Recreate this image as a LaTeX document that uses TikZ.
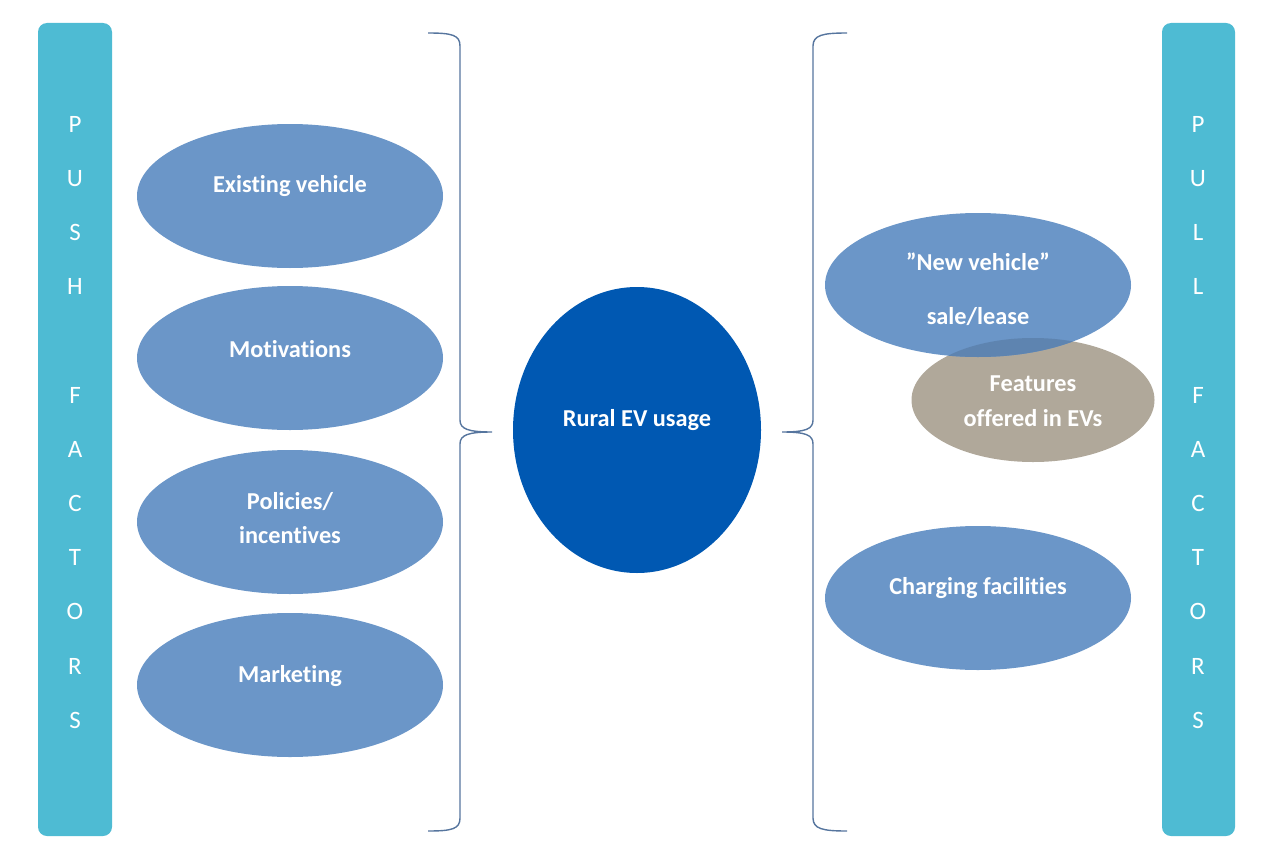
\documentclass[tikz,border=0pt]{standalone}
\usepackage{fontspec}
\setmainfont[Ligatures=NoCommon]{Carlito}
\usetikzlibrary{shapes.geometric}
\definecolor{barcol}{HTML}{4EBBD3}
\definecolor{ellcol}{HTML}{6B96C8}
\definecolor{corecol}{HTML}{0058B2}
\definecolor{featcol}{HTML}{B0A89A}
\definecolor{bracecol}{HTML}{56759E}
\tikzset{
  factorbar/.style={fill=barcol, draw=none, rounded corners=9pt},
  bartext/.style={text=white, font=\fontsize{25}{30}\selectfont, align=center, inner sep=0pt},
  blob/.style={ellipse, fill=ellcol, draw=none, minimum width=306pt, minimum height=144pt, inner sep=0pt},
  label/.style={text=white, font=\bfseries\fontsize{24.3}{29}\selectfont, align=center, inner sep=0pt},
  bracket/.style={draw=bracecol, line width=1.4pt},
}
\begin{document}
\begin{tikzpicture}[x=1pt, y=-1pt]
\useasboundingbox (0,0) rectangle (1282,843);

% side bars
\fill[factorbar] (38,23) rectangle (112,836);
\fill[factorbar] (1162,23) rectangle (1235,836);
\foreach \ch [count=\i] in {P,U,S,H,,F,A,C,T,O,R,S}
  \node[bartext] (pushl\i) at (75,{124+(\i-1)*54.2}) {\ch};
\foreach \ch [count=\i] in {P,U,L,L,,F,A,C,T,O,R,S}
  \node[bartext] (pulll\i) at (1198,{124+(\i-1)*54.2}) {\ch};

% push factors
\node[blob] (exist) at (290,196) {};
\node[label] (existt) at (290,186) {Existing vehicle};
\node[blob] (motiv) at (290,358) {};
\node[label] (motivt) at (290,349) {Motivations};
\node[blob] (policy) at (290,522) {};
\node[label] (policyt) at (290,518) {Policies/\\[5pt]incentives};
\node[blob] (market) at (290,685) {};
\node[label] (markett) at (290,676) {Marketing};

% core
\node[ellipse, fill=corecol, minimum width=248pt, minimum height=286pt, inner sep=0pt] (core) at (637,430) {};
\node[label] (coret) at (637,420) {Rural EV usage};

% pull factors: the features ellipse sits behind the sale/lease ellipse
\node[ellipse, fill=featcol, minimum width=243pt, minimum height=124pt, inner sep=0pt] (feat) at (1033,400) {};
\node[blob] (newveh) at (978,285) {};
\begin{scope}
  \clip (978,285) ellipse [x radius=153, y radius=72];
  \fill[ellcol!88!black] (1033,400) ellipse [x radius=121.5, y radius=62];
\end{scope}
\node[label] (newvt) at (978,262) {”New vehicle”};
\node[label] (salet) at (978,317) {sale/lease};
\node[label] (featt) at (1033,401) {Features\\[6pt]offered in EVs};
\node[blob] (charge) at (978,598) {};
\node[label] (charget) at (978,588) {Charging facilities};

% braces
\coordinate (lt) at (428,33);
\coordinate (lm) at (492,432);
\coordinate (lb) at (428,831);
\draw[bracket] (lt) .. controls (452,33) and (460,35) .. (460,46) -- (460,420)
  .. controls (460,429) and (468,432) .. (lm)
  .. controls (468,432) and (460,435) .. (460,444) -- (460,818)
  .. controls (460,829) and (452,831) .. (lb);
\coordinate (rt) at (847,33);
\coordinate (rm) at (782,432);
\coordinate (rb) at (847,831);
\draw[bracket] (rt) .. controls (823,33) and (813,35) .. (813,46) -- (813,420)
  .. controls (813,429) and (806,432) .. (rm)
  .. controls (806,432) and (813,435) .. (813,444) -- (813,818)
  .. controls (813,829) and (823,831) .. (rb);
\end{tikzpicture}
\end{document}
